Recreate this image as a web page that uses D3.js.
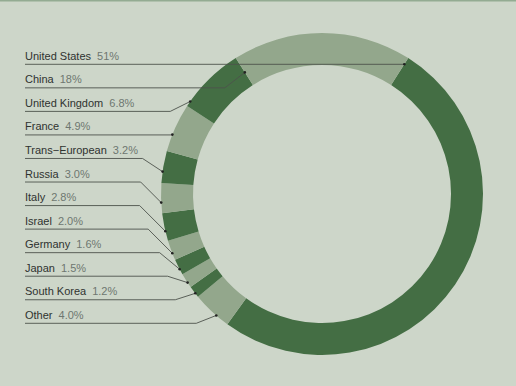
<!DOCTYPE html>
<html>
<head>
<meta charset="utf-8">
<script src="https://cdn.jsdelivr.net/npm/d3@7"></script>
<style>
  html, body { margin: 0; padding: 0; background: #cdd6c9; }
  svg { display: block; }
</style>
</head>
<body>
<svg id="chart"></svg>
<script>
// label order (top to bottom) and shares in percent
const names = ["United States", "China", "United Kingdom", "France", "Trans\u2212European", "Russia",
               "Italy", "Israel", "Germany", "Japan", "South Korea", "Other"];
const shares = [51, 18, 6.8, 4.9, 3.2, 3.0, 2.8, 2.0, 1.6, 1.5, 1.2, 4.0];
const shareLabels = ["51%", "18%", "6.8%", "4.9%", "3.2%", "3.0%", "2.8%", "2.0%", "1.6%", "1.5%", "1.2%", "4.0%"];
// order the slices run clockwise round the ring, starting with the US
const ringOrder = ["United States", "Other", "South Korea", "Japan", "Germany", "Israel", "Italy",
                   "Russia", "Trans\u2212European", "France", "United Kingdom", "China"];

const width = 516, height = 386;
const cx = 322, cy = 194;
const outerR = 161, innerR = 129;
const dark = "#446e44", light = "#93a78c";

const svg = d3.select("#chart").attr("width", width).attr("height", height);

svg.append("rect").attr("width", width).attr("height", height).attr("fill", "#cdd6c9");
svg.append("rect").attr("width", width).attr("height", 1.5).attr("fill", "#93ab92");

const data = ringOrder.map((n, i) => ({ name: n, value: shares[names.indexOf(n)], idx: i }));

// China sits centred on the top, so the US starts at half of China's share
const chinaShare = shares[names.indexOf("China")];
const start = Math.PI * 2 * (chinaShare / 100) / 2;

const pie = d3.pie().sort(null).value(d => d.value)
  .startAngle(start).endAngle(start + Math.PI * 2);
const arcs = pie(data);

const arc = d3.arc().innerRadius(innerR).outerRadius(outerR);

const g = svg.append("g").attr("transform", `translate(${cx},${cy})`);
g.selectAll("path")
  .data(arcs)
  .enter().append("path")
  .attr("d", arc)
  .attr("fill", d => d.data.idx % 2 === 0 ? dark : light);

// label rows
const y = d3.scalePoint().domain(names).range([64.3, 323.3]);
const textX = 25;

const byName = {};
arcs.forEach(a => byName[a.data.name] = a);

function polar(a, r) {
  return [cx + r * Math.sin(a), cy - r * Math.cos(a)];
}

function anchor(name) {
  const a = byName[name];
  const span = a.endAngle - a.startAngle;
  const ly = y(name);
  if (span > Math.PI) {
    // US: the line runs flat across the ring to the slice edge
    const r = (cy - ly) / Math.cos(a.startAngle);
    return polar(a.startAngle, r);
  }
  if (span > Math.PI / 3) return polar(a.startAngle, 144);
  if (span > Math.PI / 9) return polar(a.startAngle + span * 0.08, outerR);
  return polar(a.startAngle + span * 0.35, outerR);
}

const lines = svg.append("g");
names.forEach((n, i) => {
  const ly = y(n);
  const [ax, ay] = anchor(n);
  const dy = Math.abs(ay - ly);
  const elbow = dy < 1.5 ? ax : ax - Math.max(dy, 20);
  lines.append("polyline")
    .attr("points", `${textX},${ly} ${elbow},${ly} ${ax},${ay}`)
    .attr("fill", "none")
    .attr("stroke", "#4d524c")
    .attr("stroke-width", 0.9);
  lines.append("circle")
    .attr("cx", ax).attr("cy", ay).attr("r", 1.3)
    .attr("fill", "#222");

  const t = svg.append("text")
    .attr("x", textX)
    .attr("y", ly - 4.5)
    .style("font-family", "'Liberation Sans', Arial, sans-serif")
    .style("font-size", "11px");
  t.append("tspan").attr("fill", "#2f3330").text(n);
  t.append("tspan").attr("dx", 6).attr("fill", "#6e7670").text(shareLabels[i]);
});
</script>
</body>
</html>
